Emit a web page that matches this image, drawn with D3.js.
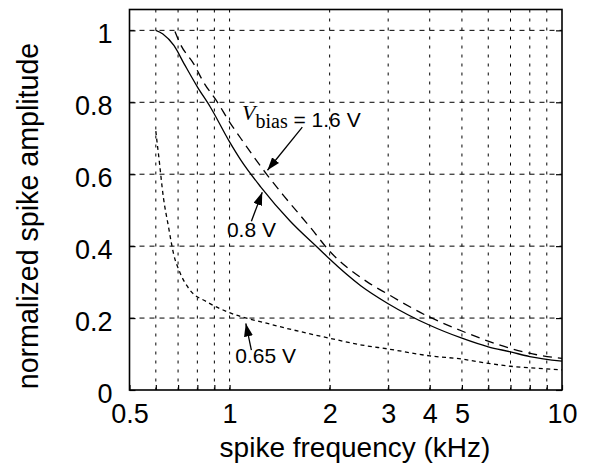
<!DOCTYPE html>
<html>
<head>
<meta charset="utf-8">
<script src="https://cdn.jsdelivr.net/npm/d3@7"></script>
<style>
  body { margin: 0; background: #fff; }
  text { font-family: "Liberation Sans", Arial, Helvetica, sans-serif; fill: #000; }
</style>
</head>
<body>
<div id="container"></div>
<script>
/* DATA */
// Vbias = 0.8 V (solid)
const freq08 = [0.6, 0.63, 0.68, 0.73, 0.8, 0.875, 1.0, 1.08, 1.24, 1.52, 1.88, 2.0, 2.48, 3.0, 4.0, 5.0, 6.0, 7.0, 8.0, 10];
const amp08  = [1.0, 0.99, 0.958, 0.907, 0.843, 0.787, 0.69, 0.64, 0.565, 0.47, 0.388, 0.364, 0.29, 0.24, 0.18, 0.144, 0.12, 0.106, 0.093, 0.08];
// Vbias = 1.6 V (dashed)
const freq16 = [0.685, 0.71, 0.78, 0.835, 0.92, 1.0, 1.08, 1.3, 1.45, 1.75, 2.0, 2.6, 3.0, 3.85, 5.0, 6.7, 8.4, 10];
const amp16  = [0.997, 0.963, 0.907, 0.856, 0.80, 0.745, 0.70, 0.597, 0.542, 0.452, 0.386, 0.3, 0.266, 0.21, 0.164, 0.121, 0.098, 0.088];
// Vbias = 0.65 V (dotted)
const freq065 = [0.6, 0.605, 0.611, 0.632, 0.655, 0.678, 0.711, 0.76, 0.855, 1.0, 1.3, 2.0, 2.5, 3.0, 4.0, 5.0, 6.0, 7.0, 8.0, 10];
const amp065  = [0.72, 0.69, 0.657, 0.537, 0.454, 0.38, 0.324, 0.278, 0.245, 0.215, 0.185, 0.144, 0.125, 0.114, 0.095, 0.086, 0.074, 0.066, 0.062, 0.056];

const xTicks = [0.5, 0.6, 0.7, 0.8, 0.9, 1, 2, 3, 4, 5, 6, 7, 8, 9, 10];
const xLabels = [0.5, 1, 2, 3, 4, 5, 10];
const yTicks = [0, 0.2, 0.4, 0.6, 0.8, 1];

/* CONSTANTS */
const width = 600, height = 469;
const plot = {left: 129.5, right: 562, top: 9.5, bottom: 390};

const xScale = d3.scaleLog().domain([0.5, 10]).range([plot.left, plot.right]);
const yScale = d3.scaleLinear().domain([0, 1.058]).range([plot.bottom, plot.top]);

const svg = d3.select("#container")
  .append("svg")
  .attr("width", width)
  .attr("height", height)
  .style("background-color", "#fff");

// arrow marker
svg.append("defs").append("marker")
  .attr("id", "arrow")
  .attr("markerUnits", "userSpaceOnUse")
  .attr("viewBox", "0 0 13 9")
  .attr("markerWidth", 13)
  .attr("markerHeight", 9)
  .attr("refX", 13)
  .attr("refY", 4.5)
  .attr("orient", "auto")
  .append("path")
  .attr("d", "M0,0 L13,4.5 L0,9 Z")
  .attr("fill", "#000");

/* GRID */
svg.append("g")
  .selectAll("line")
  .data(xTicks.filter(d => d > 0.5 && d < 10))
  .join("line")
  .attr("x1", d => xScale(d)).attr("x2", d => xScale(d))
  .attr("y1", plot.top).attr("y2", plot.bottom)
  .attr("stroke", "#000")
  .attr("stroke-width", 1)
  .attr("stroke-dasharray", "3,6");

svg.append("g")
  .selectAll("line")
  .data(yTicks.filter(d => d > 0))
  .join("line")
  .attr("x1", plot.left).attr("x2", plot.right)
  .attr("y1", d => yScale(d)).attr("y2", d => yScale(d))
  .attr("stroke", "#000")
  .attr("stroke-width", 1)
  .attr("stroke-dasharray", "5,5");

/* AXES */
svg.append("g")
  .attr("transform", `translate(0,${plot.bottom})`)
  .call(d3.axisBottom(xScale)
    .tickValues(xTicks)
    .tickSizeInner(-5)
    .tickSizeOuter(0)
    .tickPadding(14)
    .tickFormat(d => xLabels.includes(d) ? d : ""));

const yAxis = svg.append("g")
  .attr("transform", `translate(${plot.left},0)`)
  .call(d3.axisLeft(yScale)
    .tickValues(yTicks)
    .tickSizeInner(-6)
    .tickSizeOuter(0)
    .tickPadding(17)
    .tickFormat(d => d));

svg.append("g")
  .attr("transform", `translate(${plot.right},0)`)
  .call(d3.axisRight(yScale)
    .tickValues(yTicks)
    .tickSizeInner(-6)
    .tickSizeOuter(0)
    .tickFormat(""));

svg.selectAll(".domain").remove();
svg.selectAll(".tick line").attr("stroke", "#000").attr("stroke-width", 1.2);
svg.selectAll(".tick text")
  .attr("fill", "#000")
  .style("font-size", "27px")
  .style("font-family", "'Liberation Sans', Arial, sans-serif");
yAxis.selectAll(".tick text").attr("dy", "0.45em");

// frame
svg.append("rect")
  .attr("x", plot.left).attr("y", plot.top)
  .attr("width", plot.right - plot.left)
  .attr("height", plot.bottom - plot.top)
  .attr("fill", "none")
  .attr("stroke", "#000")
  .attr("stroke-width", 1.6);

/* CURVES */
const line = d3.line()
  .x(d => xScale(d[0]))
  .y(d => yScale(d[1]))
  .curve(d3.curveMonotoneX);

const series = [
  {f: freq065, a: amp065, dash: "4,3.5"},
  {f: freq16, a: amp16, dash: "9,6"},
  {f: freq08, a: amp08, dash: null}
];

svg.append("g")
  .selectAll("path")
  .data(series)
  .join("path")
  .attr("d", s => line(d3.zip(s.f, s.a)))
  .attr("fill", "none")
  .attr("stroke", "#000")
  .attr("stroke-width", 1.3)
  .attr("stroke-dasharray", s => s.dash);

/* ANNOTATIONS (data coordinates) */
const arrows = [
  {from: [1.655, 0.731], to: [1.30, 0.611]},
  {from: [1.163, 0.469], to: [1.254, 0.55]},
  {from: [1.163, 0.111], to: [1.119, 0.185]}
];

svg.append("g")
  .selectAll("line")
  .data(arrows)
  .join("line")
  .attr("x1", d => xScale(d.from[0])).attr("y1", d => yScale(d.from[1]))
  .attr("x2", d => xScale(d.to[0])).attr("y2", d => yScale(d.to[1]))
  .attr("stroke", "#000")
  .attr("stroke-width", 1.3)
  .attr("marker-end", "url(#arrow)");

const vb = svg.append("text")
  .attr("x", xScale(1.09))
  .attr("y", yScale(0.731));
vb.append("tspan")
  .text("V")
  .attr("dy", -7)
  .style("font-family", "'Liberation Serif', 'Times New Roman', serif")
  .style("font-style", "italic")
  .style("font-size", "22px");
vb.append("tspan")
  .text("bias")
  .attr("dy", 8)
  .style("font-family", "'Liberation Serif', 'Times New Roman', serif")
  .style("font-size", "20px");
vb.append("tspan")
  .text(" = 1.6 V")
  .attr("dy", -1)
  .style("font-size", "21px");

svg.append("text")
  .attr("x", xScale(0.982))
  .attr("y", yScale(0.425))
  .style("font-size", "21px")
  .text("0.8 V");

svg.append("text")
  .attr("x", xScale(1.04))
  .attr("y", yScale(0.075))
  .style("font-size", "21px")
  .text("0.65 V");

/* AXIS TITLES */
svg.append("text")
  .attr("x", 355)
  .attr("y", 457)
  .attr("text-anchor", "middle")
  .style("font-size", "28px")
  .text("spike frequency (kHz)");

svg.append("text")
  .attr("transform", "translate(38,216) rotate(-90)")
  .attr("text-anchor", "middle")
  .style("font-size", "28.6px")
  .text("normalized spike amplitude");
</script>
</body>
</html>
